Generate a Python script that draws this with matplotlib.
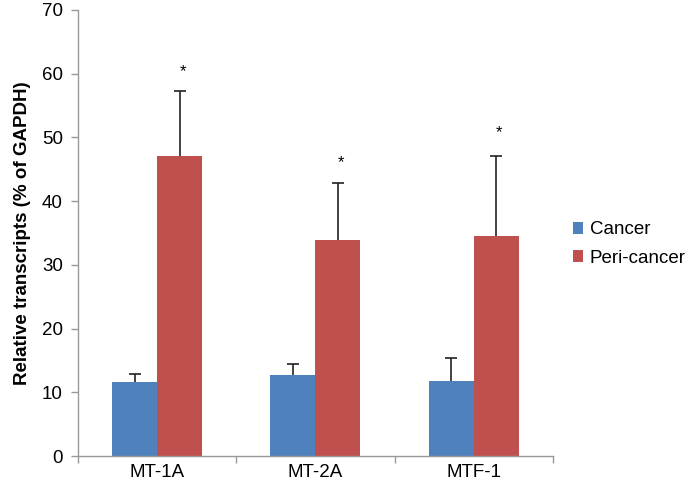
import matplotlib
matplotlib.use("Agg")
import matplotlib.pyplot as plt
import numpy as np

plt.rcParams['font.family'] = ['Liberation Sans', 'DejaVu Sans']

genes = ["MT-1A", "MT-2A", "MTF-1"]
cancer = [11.6, 12.7, 11.8]
cancer_err = [1.2, 1.7, 3.6]
peri = [47.0, 33.9, 34.6]
peri_err = [10.3, 8.9, 12.5]
sig_y = [59.6, 45.3, 50.0]
yticks = [0, 10, 20, 30, 40, 50, 60, 70]

blue = "#4F81BD"
red = "#C0504D"
fs = 13.5

fig = plt.figure(figsize=(6.85, 4.96), dpi=100)
ax = fig.add_axes([0.1139, 0.0806, 0.807 - 0.1139, 0.98 - 0.0806])

x = np.arange(len(genes))
w = 0.284
ax.bar(x - w/2, cancer, w, color=blue, label="Cancer")
ax.bar(x + w/2, peri, w, color=red, label="Peri-cancer")

for xs, vals, errs in [(x - w/2, cancer, cancer_err), (x + w/2, peri, peri_err)]:
    _, caps, _ = ax.errorbar(xs, vals, yerr=[np.zeros(len(vals)), errs], fmt="none",
                             ecolor="#222222", elinewidth=1.2, capthick=1.2, capsize=4)
    caps[0].set_visible(False)

for xi, sy in zip(x, sig_y):
    ax.text(xi + w/2 + 0.02, sy, "*", ha="center", va="baseline", fontsize=12, color="black")

ax.set_xlim(-0.5, 2.5)
ax.set_ylim(0, 70)
ax.set_yticks(yticks)
ax.set_yticklabels([str(t) for t in yticks], fontsize=fs)
ax.set_xticks(x)
ax.set_xticklabels(genes, fontsize=fs)
ax.tick_params(axis='x', length=0, pad=6)
ax.set_xticks([-0.5, 0.5, 1.5, 2.5], minor=True)
ax.tick_params(axis='x', which='minor', length=5, color="#999999", width=1)
ax.tick_params(axis='y', length=5, color="#999999", width=1, pad=6)

for s in ["top", "right"]:
    ax.spines[s].set_visible(False)
for s in ["left", "bottom"]:
    ax.spines[s].set_color("#999999")
    ax.spines[s].set_linewidth(1)

ax.set_ylabel("Relative transcripts (% of GAPDH)", fontsize=fs, fontweight="bold", labelpad=8)

leg = ax.legend(loc="center left", bbox_to_anchor=(0.042, 0.475), frameon=False,
                bbox_transform=ax.transAxes, borderaxespad=0, borderpad=0,
                fontsize=fs, handlelength=0.55, handleheight=0.55, handletextpad=0.35,
                labelspacing=0.6)
leg.set_bbox_to_anchor((1.042, 0.475), transform=ax.transAxes)

fig.savefig("out.png", dpi=100)
